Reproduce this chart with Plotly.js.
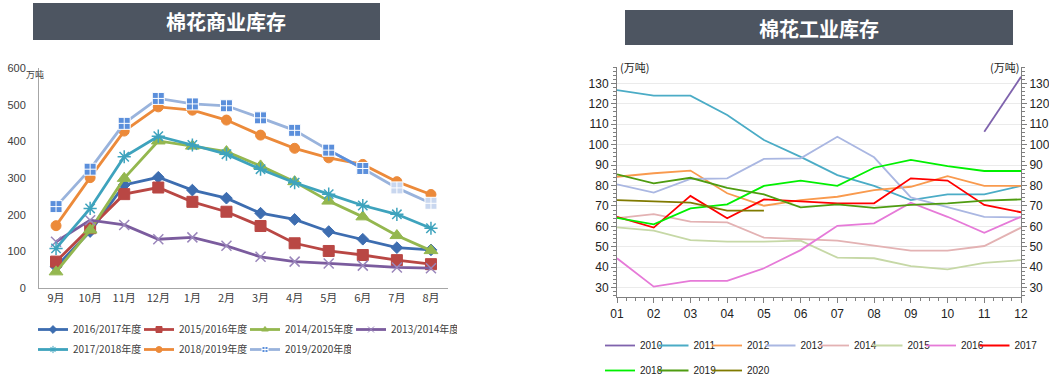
<!DOCTYPE html>
<html><head><meta charset="utf-8">
<script src="https://cdn.plot.ly/plotly-3.0.1.min.js"></script>
<style>body{margin:0;background:#fff}#c{width:1049px;height:380px}</style>
</head><body><div id="c"></div>
<script>
// ---- Left chart: 棉花商业库存 ----
const monthsL = ['9月','10月','11月','12月','1月','2月','3月','4月','5月','6月','7月','8月'];
const s1617 = [58,154,281,302,267,245,204,187,154,133,110,104];
const s1516 = [72,163,256,274,235,208,169,122,101,90,76,65];
const s1415 = [44,158,299,401,387,372,333,290,237,194,143,102];
const s1314 = [126,185,172,133,138,115,85,72,67,61,56,54];
const s1718 = [108,217,358,414,390,365,324,287,256,225,201,163];
const s1819 = [170,301,428,494,485,458,417,381,355,337,290,255];
const s1920 = [222,324,449,517,502,497,464,430,376,326,273,231];

// ---- Right chart: 棉花工业库存 ----
const monthsR = [1,2,3,4,5,6,7,8,9,10,11,12];
const monthLabelsR = ['01','02','03','04','05','06','07','08','09','10','11','12'];
const y2010 = [null,null,null,null,null,null,null,null,null,null,106.3,133.2];
const y2011 = [126.7,124,124,114.5,102.3,94,85.1,79.8,72.9,75.7,75.7,79.8];
const y2012 = [84.3,86,87.3,76.2,70.1,72.9,74.5,77.8,79.4,84.6,79.8,79.8];
const y2013 = [80.6,76.5,83.2,83.5,93,93.3,103.9,93.8,74.2,69.6,64.7,64.4];
const y2014 = [64,66,62.3,62,54.5,53.8,53,50.6,48.1,48.1,50.4,59.4];
const y2015 = [59.5,57.9,53.3,52.5,52.5,53,44.7,44.4,40.6,39,42.2,43.5];
const y2016 = [44.4,30.5,33.3,33.3,39.5,48.4,60.3,61.5,71.6,64.7,56.9,64.7];
const y2017 = [64.7,59.4,74.9,64,73.2,72.4,71.3,71.3,83.5,82.4,70.5,66.9];
const y2018 = [64.2,61,68.8,70.8,79.8,82.4,79.8,88.7,92.5,89.5,87.1,87.1];
const y2019 = [85.5,81.1,83.8,78.9,75.7,69.3,70.8,69.1,70.5,71.3,72.6,73.2];
const y2020 = [72.9,72.1,71.6,67.7,67.7];

const cjk = '"Noto Sans CJK SC", "Noto Sans", sans-serif';
const narrow = '"Liberation Sans Narrow", "Liberation Sans", sans-serif';

const seriesL = [
  {name:'2016/2017年度', y:s1617, color:'#3d6db0', mcolor:'#3d6db0', symbol:'diamond', size:9, lw:1, lg:'legend'},
  {name:'2015/2016年度', y:s1516, color:'#b94744', mcolor:'#b94744', symbol:'square', size:11, lw:1, lg:'legend'},
  {name:'2014/2015年度', y:s1415, color:'#94b74f', mcolor:'#94b74f', symbol:'triangle-up', size:12, lw:1, lg:'legend'},
  {name:'2013/2014年度', y:s1314, color:'#7b5c9e', mcolor:'#9a86bb', symbol:'x-thin-open', size:10, lw:1.5, lg:'legend'},
  {name:'2017/2018年度', y:s1718, color:'#3ea3bd', mcolor:'#3ea3bd', symbol:'asterisk-open', size:11, lw:1.5, lg:'legend2'},
  {name:'2018/2019年度', y:s1819, color:'#ec8a3a', mcolor:'#ec8a3a', symbol:'circle', size:10, lw:1, lg:'legend2'},
  {name:'2019/2020年度', y:s1920, color:'#99b3dc', mcolor:'#5b8fdb', symbol:'square-cross', size:12, lw:1, lg:'legend2'}
];
const lightM = '#c9d7ef';
const traces = [];
seriesL.forEach(s => {
  const isCross = s.symbol === 'square-cross';
  traces.push({type:'scatter', mode:'lines+markers', x:monthsL, y:s.y, name:s.name,
    xaxis:'x', yaxis:'y', showlegend:false,
    line:{color:s.color, width:2.8},
    marker:{symbol:s.symbol, size:s.size,
      color: isCross ? s.y.map((v,i)=> i>=10 ? lightM : s.mcolor) : s.mcolor,
      line:{color: isCross ? '#ffffff' : s.mcolor, width:s.lw}},
    hoverinfo:'skip'});
  if (isCross) {
    // darker segment of 2019/2020 between 5月 and 6月
    traces.push({type:'scatter', mode:'lines+markers', x:monthsL.slice(8,10), y:s.y.slice(8,10), xaxis:'x', yaxis:'y',
      line:{color:s.mcolor, width:2.8}, showlegend:false, hoverinfo:'skip',
      marker:{symbol:'square-cross', size:12, color:s.mcolor, line:{color:'#ffffff', width:1}}});
  }
});
// legend entries (small markers, as in the reference)
seriesL.forEach(s => {
  traces.push({type:'scatter', mode:'lines+markers', x:[null], y:[null], name:s.name, xaxis:'x', yaxis:'y',
    legend:s.lg, showlegend:true, hoverinfo:'skip',
    line:{color:s.color, width:2.8},
    marker:{symbol:s.symbol, size:6, color:s.mcolor, line:{color: s.symbol==='square-cross' ? '#ffffff' : s.mcolor, width:1}}});
});

const seriesR = [
  {name:'2010', y:y2010, color:'#7f63ad'},
  {name:'2011', y:y2011, color:'#4bacc6'},
  {name:'2012', y:y2012, color:'#f99a4e'},
  {name:'2013', y:y2013, color:'#aab7e2'},
  {name:'2014', y:y2014, color:'#e3b2b3'},
  {name:'2015', y:y2015, color:'#c6d8a6'},
  {name:'2016', y:y2016, color:'#e67ad8'},
  {name:'2017', y:y2017, color:'#ff0000'},
  {name:'2018', y:y2018, color:'#00f000'},
  {name:'2019', y:y2019, color:'#4f9c10'},
  {name:'2020', y:y2020, color:'#807a00'}
];
seriesR.forEach((s, i) => {
  traces.push({type:'scatter', mode:'lines', x:monthsR.slice(0, s.y.length), y:s.y, name:s.name,
    xaxis:'x2', yaxis:'y2', legend:'legend' + (i + 3), line:{color:s.color, width:1.8},
    connectgaps:false, hoverinfo:'skip'});
});
// dummy trace for right-side axis
traces.push({type:'scatter', mode:'lines', x:[1], y:[50], xaxis:'x2', yaxis:'y3', showlegend:false, line:{color:'rgba(0,0,0,0)'}, hoverinfo:'skip'});

const W = 1049, H = 380;
const px = v => v / W, py = v => (H - v) / H;

const legL = {orientation:'h', xanchor:'left', yanchor:'top',
  font:{family:cjk, size:10, color:'#404040'}, entrywidth:61, entrywidthmode:'pixels',
  bgcolor:'rgba(0,0,0,0)', itemwidth:30};

const tickR = [30,40,50,60,70,80,90,100,110,120,130];
const layout = {
  width:W, height:H, autosize:false,
  margin:{l:0,r:0,t:0,b:0, autoexpand:false},
  paper_bgcolor:'#ffffff', plot_bgcolor:'rgba(0,0,0,0)',
  font:{family:cjk, size:11, color:'#404040'},
  showlegend:true,
  xaxis:{domain:[px(39), px(448)], range:[-0.5,11.5], type:'category', anchor:'y',
    showline:true, linecolor:'#a6a6a6', linewidth:1, showgrid:false, zeroline:false, ticks:'',
    tickfont:{family:cjk, size:11, color:'#404040'}, automargin:false},
  yaxis:{domain:[py(288), py(68)], range:[0,600], dtick:100, anchor:'x',
    showline:true, linecolor:'#a6a6a6', linewidth:1, showgrid:false, zeroline:false, ticks:'',
    ticklabelstandoff:10, tickfont:{family:'"Liberation Sans", sans-serif', size:11, color:'#404040'}, automargin:false},
  xaxis2:{domain:[px(617), px(1021)], range:[1,12], anchor:'y2',
    tickvals:monthsR, ticktext:monthLabelsR,
    showline:true, linecolor:'#7f7f7f', linewidth:1, showgrid:false, zeroline:false,
    ticks:'outside', ticklen:5, tickcolor:'#7f7f7f',
    minor:{dtick:0.25, ticks:'outside', ticklen:3, tickcolor:'#7f7f7f'},
    tickfont:{family:narrow, size:12, color:'#222'}, automargin:false},
  yaxis2:{domain:[py(297.3), py(67)], range:[25.3,138], anchor:'x2',
    tickvals:tickR,
    showline:true, linecolor:'#7f7f7f', linewidth:1, showgrid:true, gridcolor:'#ebebeb', zeroline:false,
    ticks:'outside', ticklen:5, tickcolor:'#7f7f7f',
    minor:{dtick:2, ticks:'outside', ticklen:3, tickcolor:'#7f7f7f', showgrid:false},
    tickfont:{family:narrow, size:12, color:'#222'}, automargin:false},
  yaxis3:{overlaying:'y2', side:'right', anchor:'x2', range:[25.3,138],
    tickvals:tickR,
    showline:true, linecolor:'#7f7f7f', linewidth:1, showgrid:false, zeroline:false,
    ticks:'outside', ticklen:5, tickcolor:'#7f7f7f',
    minor:{dtick:2, ticks:'outside', ticklen:3, tickcolor:'#7f7f7f'},
    tickfont:{family:narrow, size:12, color:'#222'}, automargin:false},
  legend: Object.assign({x:px(33), y:py(315)}, legL),
  legend2: Object.assign({x:px(33), y:py(335)}, legL),
  shapes:[
    {type:'rect', xref:'paper', yref:'paper', x0:px(33), x1:px(380), y0:py(40), y1:py(3), fillcolor:'#4d5561', line:{width:0}, layer:'below'},
    {type:'rect', xref:'paper', yref:'paper', x0:px(625), x1:px(1013), y0:py(45), y1:py(10), fillcolor:'#4d5561', line:{width:0}, layer:'below'}
  ],
  annotations:[
    {xref:'paper', yref:'paper', x:px(226), y:py(22), text:'<b>棉花商业库存</b>', showarrow:false, xanchor:'center', yanchor:'middle',
      font:{family:cjk, size:20, color:'#ffffff'}},
    {xref:'paper', yref:'paper', x:px(819), y:py(28), text:'<b>棉花工业库存</b>', showarrow:false, xanchor:'center', yanchor:'middle',
      font:{family:cjk, size:20, color:'#ffffff'}},
    {xref:'paper', yref:'paper', x:px(24), y:py(75), text:'万吨', showarrow:false, xanchor:'left', yanchor:'middle',
      font:{family:cjk, size:9, color:'#404040'}},
    {xref:'paper', yref:'paper', x:px(618), y:py(67), text:'(万吨)', showarrow:false, xanchor:'left', yanchor:'middle',
      font:{family:cjk, size:11, color:'#222'}},
    {xref:'paper', yref:'paper', x:px(1021), y:py(67), text:'(万吨)', showarrow:false, xanchor:'right', yanchor:'middle',
      font:{family:cjk, size:11, color:'#222'}}
  ]
};
// one small legend box per year of the right chart: 8 in the first row, 3 in the second
seriesR.forEach((s, i) => {
  const col = i < 8 ? i : i - 8;
  const rowTop = i < 8 ? 331 : 356;
  layout['legend' + (i + 3)] = {orientation:'h', xanchor:'left', yanchor:'top',
    x:px(600 + 53.5 * col), y:py(rowTop),
    font:{family:narrow, size:10, color:'#222'},
    bgcolor:'rgba(0,0,0,0)', itemwidth:30};
});
Plotly.newPlot('c', traces, layout, {staticPlot:true, displayModeBar:false});
</script>
</body></html>
